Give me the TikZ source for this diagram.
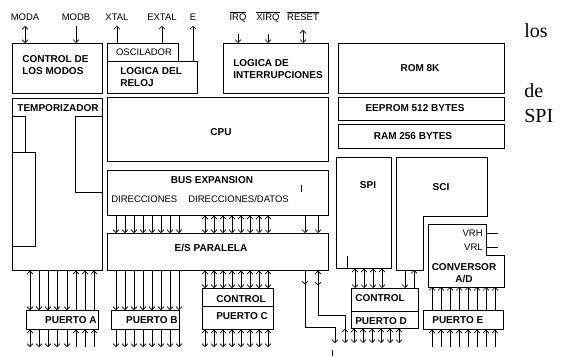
\documentclass[tikz,border=0pt]{standalone}
\usepackage{fontspec}
\setmainfont{Liberation Sans}
\newfontfamily\timesfont{Liberation Serif}
\usetikzlibrary{arrows.meta}

\tikzset{
  blk/.style={draw, anchor=north west, inner sep=0pt},
  bt/.style={inner sep=0pt, font=\bfseries\fontsize{10}{12}\selectfont},
  rt/.style={inner sep=0pt, font=\fontsize{9.5}{11}\selectfont},
  pin/.style={inner sep=0pt, anchor=base, font=\fontsize{9.5}{11}\selectfont},
}

\begin{document}
\begin{tikzpicture}[x=1pt, y=-1pt, line width=0.65pt,
    >={Straight Barb[length=3pt,width=6pt]}]
    \useasboundingbox (0,0) rectangle (562,356);

    % blocks
    \node[blk, minimum width=90pt, minimum height=50pt] (modos) at (12,43) {};
    \node[blk, minimum width=71pt, minimum height=18pt] (osc) at (107,43) {};
    \node[blk, minimum width=90pt, minimum height=32pt] (reloj) at (107,61) {};
    \node[blk, minimum width=105pt, minimum height=50pt] (interr) at (223,43) {};
    \node[blk, minimum width=166pt, minimum height=50pt] (rom) at (338,43) {};
    \node[blk, minimum width=166pt, minimum height=23pt] (eeprom) at (338,97) {};
    \node[blk, minimum width=166pt, minimum height=24pt] (ram) at (338,124) {};
    \node[blk, minimum width=90pt, minimum height=172pt] (tempo) at (12,98) {};
    \node[blk, minimum width=221pt, minimum height=64pt] (cpu) at (107,97) {};
    \node[blk, minimum width=221pt, minimum height=45pt] (bus) at (107,170) {};
    \node[blk, minimum width=221pt, minimum height=37pt] (es) at (107,233) {};
    \node[blk, minimum width=55pt, minimum height=111pt] (spi) at (336,157) {};
    \node[blk, minimum width=67pt, minimum height=40pt] (ctrld) at (351,288) {};
    \node[blk, minimum width=71pt, minimum height=41pt] (ctrlc) at (202,288) {};
    \node[blk, minimum width=72pt, minimum height=19pt] (ptoa) at (26,310) {};
    \node[blk, minimum width=68pt, minimum height=19pt] (ptob) at (111,310) {};
    \node[blk, minimum width=80pt, minimum height=19pt] (ptoe) at (423,310) {};

    \draw (ctrlc.west |- 0,306) -- (ctrlc.east |- 0,306);
    \draw (ctrld.west |- 0,311) -- (ctrld.east |- 0,311);

    % SCI and conversor
    \draw (396,157) -- (487,157) -- (487,216) -- (423,216) -- (423,270) -- (396,270) -- cycle;
    \draw (428,224) -- (486,224) -- (486,255) -- (504,255) -- (504,287) -- (428,287) -- cycle;
    \coordinate (scisw) at (396,270);
    \coordinate (convsw) at (428,287);

    % temporizador inside
    \draw (12,116) rectangle (25,152);
    \draw (12,152) rectangle (35,246);
    \draw (75,116) rectangle (102,192);

    % texts
    \node[bt, anchor=west, align=left] (tmodos) at (22,65) {CONTROL DE\\LOS MODOS};
    \node[rt] (tosc) at (144,52) {OSCILADOR};
    \node[bt, anchor=west, align=left] (treloj) at (120,77.5) {LOGICA DEL\\RELOJ};
    \node[bt, anchor=west, align=left] (tinterr) at (233,69) {LOGICA DE\\INTERRUPCIONES};
    \node[bt] (trom) at (420,68) {ROM 8K};
    \node[bt] (teeprom) at (415,108) {EEPROM 512 BYTES};
    \node[bt] (tram) at (413,136) {RAM 256 BYTES};
    \node[bt] (ttempo) at (58,108) {TEMPORIZADOR};
    \node[bt] (tcpu) at (221,132) {CPU};
    \node[bt] (tbus) at (212,180) {BUS EXPANSION};
    \node[rt, anchor=west] (tdir) at (111,199) {DIRECCIONES};
    \node[rt, anchor=west] (tdat) at (188,199) {DIRECCIONES/DATOS};
    \node[bt] (tes) at (211,248) {E/S PARALELA};
    \node[bt] (tspi) at (368,185) {SPI};
    \node[bt] (tsci) at (441,187) {SCI};
    \node[rt, anchor=east] (vrh) at (483,233) {VRH};
    \node[rt, anchor=east] (vrl) at (483,247) {VRL};
    \node[bt, align=center] (tconv) at (464,273) {CONVERSOR\\A/D};
    \node[bt, anchor=west] (tctrlc) at (216,299) {CONTROL};
    \node[bt, anchor=west] (tptoc) at (216,316.5) {PUERTO C};
    \node[bt, anchor=west] (tctrld) at (355,298) {CONTROL};
    \node[bt, anchor=west] (tptod) at (355,321.5) {PUERTO D};
    \node[bt, anchor=east] (tptoa) at (97,320) {PUERTO A};
    \node[bt, anchor=east] (tptob) at (178,320) {PUERTO B};
    \node[bt, anchor=west] (tptoe) at (432,320) {PUERTO E};

    \draw (vrh.east -| 486,0) -- ++(12,0);
    \draw (vrl.east -| 486,0) -- ++(12,0);

    % pins on top
    \node[pin] (moda) at (25,20.5) {MODA};
    \node[pin] (modb) at (76,20.5) {MODB};
    \node[pin] (xtal) at (117,20.5) {XTAL};
    \node[pin] (extal) at (162,20.5) {EXTAL};
    \node[pin] (e) at (193,20.5) {E};
    \node[pin] (irq) at (238,20.5) {$\overline{\hbox{IRQ}}$};
    \node[pin] (xirq) at (268,20.5) {$\overline{\hbox{XIRQ}}$};
    \node[pin] (reset) at (303,20.5) {$\overline{\hbox{RESET}}$};

    \draw[<->] ([yshift=-5pt]moda.south) -- (moda.south |- modos.north);
    \draw[->] ([yshift=-5pt]modb.south) -- (modb.south |- modos.north);
    \draw[->] (xtal.south |- osc.north) -- ([yshift=-5pt]xtal.south);
    \draw[->] (extal.south |- osc.north) -- ([yshift=-5pt]extal.south);
    \draw[->] (e.south |- reloj.north) -- ([yshift=-5pt]e.south);
    \draw[->] ([yshift=-11pt]irq.south) -- (irq.south |- interr.north);
    \draw[->] ([yshift=-11pt]xirq.south) -- (xirq.south |- interr.north);
    \draw[<->] ([yshift=-9pt]reset.south) -- (reset.south |- interr.north);

    % pins at the bottom
    \coordinate (pinsbot) at (0,347);
    \coordinate (dbot) at (0,343);

    % puerto A
    \draw[<->] (30,0 |- tempo.south) -- (30,0 |- ptoa.north);
    \draw[<->] (30,0 |- ptoa.south) -- (30,0 |- pinsbot);
    \foreach \x in {39,48,57,67} {
        \draw[->] (\x,0 |- tempo.south) -- (\x,0 |- ptoa.north);
        \draw[->] (\x,0 |- ptoa.south) -- (\x,0 |- pinsbot);
    }
    \foreach \x in {76,85,94} {
        \draw[<-] (\x,0 |- tempo.south) -- (\x,0 |- ptoa.north);
        \draw[<-] (\x,0 |- ptoa.south) -- (\x,0 |- pinsbot);
    }

    % puerto B
    \foreach \x in {116,125,...,179} {
        \draw[->] (\x,0 |- bus.south) -- (\x,0 |- es.north);
        \draw[->] (\x,0 |- es.south) -- (\x,0 |- ptob.north);
        \draw[->] (\x,0 |- ptob.south) -- (\x,0 |- pinsbot);
    }

    % puerto C
    \foreach \x in {205,214,...,268} {
        \draw[<->] (\x,0 |- bus.south) -- (\x,0 |- es.north);
        \draw[<->] (\x,0 |- es.south) -- (\x,0 |- ctrlc.north);
        \draw[<->] (\x,0 |- ctrlc.south) -- (\x,0 |- pinsbot);
    }

    % lines to puerto D
    \coordinate (benda) at (335,327);
    \coordinate (bendb) at (345,315);
    \draw[->] (305,0 |- bus.south) -- (305,0 |- es.north);
    \draw[->] (318,0 |- bus.south) -- (318,0 |- es.north);
    \draw[->] (es.south -| 305,0) -- ++(0,14);
    \draw[->] (es.south -| 305,0) |- (benda) -- (benda |- dbot);
    \draw[<->] (es.south -| 318,0) -- ++(0,15);
    \draw (es.south -| 318,0) |- (bendb) -- (bendb |- ctrld.south);

    % puerto D
    \foreach \x in {355,364,373,382}
        \draw[<->] (\x,0 |- spi.south) -- (\x,0 |- ctrld.north);
    \draw[->] (405,0 |- scisw) -- (405,0 |- ctrld.north);
    \draw[<-] (414,0 |- scisw) -- (414,0 |- ctrld.north);
    \foreach \x in {345,354,...,399}
        \draw[<->] (\x,0 |- ctrld.south) -- (\x,0 |- dbot);

    % puerto E
    \foreach \x in {432,441,...,495} {
        \draw[<-] (\x,0 |- convsw) -- (\x,0 |- ptoe.north);
        \draw[<-] (\x,0 |- ptoe.south) -- (\x,0 |- pinsbot);
    }

    % small marks
    \draw (spi.south -| 347,0) -- ++(0,-13);
    \draw (301,185) -- (301,192);
    \draw (332,350) -- (332,356);

    % side text
    \node[inner sep=0pt, anchor=base west, font=\timesfont\fontsize{20}{24}\selectfont] (los) at (524,37) {los};
    \node[inner sep=0pt, anchor=base west, font=\timesfont\fontsize{20}{24}\selectfont] (de) at (524,97) {de};
    \node[inner sep=0pt, anchor=base west, font=\timesfont\fontsize{20}{24}\selectfont] (spitxt) at (524,122) {SPI};
\end{tikzpicture}
\end{document}
